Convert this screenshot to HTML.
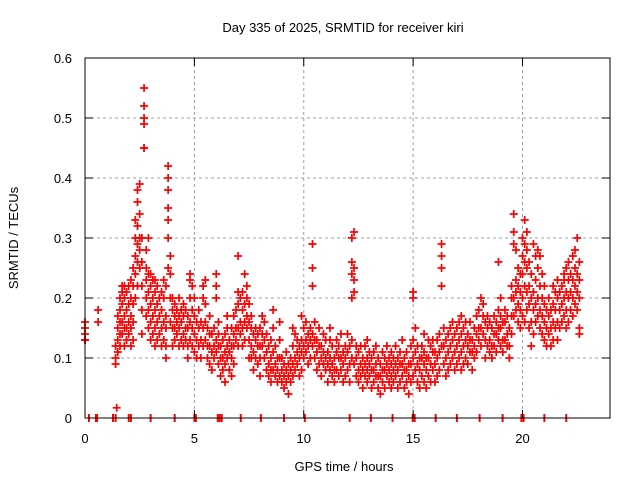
<!DOCTYPE html>
<html><head><meta charset="utf-8"><style>
body{margin:0;background:#fff;}
svg{display:block;font-family:"Liberation Sans",sans-serif;}
</style></head><body>
<svg id="chart" width="640" height="480">
<text x="343" y="32" text-anchor="middle" font-size="13">Day 335 of 2025, SRMTID for receiver kiri</text>
<text transform="translate(18,238) rotate(-90)" text-anchor="middle" font-size="13">SRMTID / TECUs</text>
<text x="344" y="471" text-anchor="middle" font-size="13">GPS time / hours</text>
<g id="grid"></g>
<g id="marks"></g>
<g id="axes"></g>
</svg>
<script>
const yTicks=[0,0.1,0.2,0.3,0.4,0.5,0.6];
const xTicks=[0,5,10,15,20];
const binHours=[0.0,0.6,1.4,1.45,1.5,1.6,1.7,1.8,1.9,2.0,2.1,2.2,2.3,2.4,2.5,2.6,2.7,2.8,2.9,3.0,3.1,3.2,3.3,3.4,3.5,3.6,3.7,3.8,3.9,4.0,4.1,4.2,4.3,4.4,4.5,4.6,4.7,4.8,4.9,5.0,5.1,5.2,5.3,5.4,5.5,5.6,5.7,5.8,5.9,6.0,6.1,6.2,6.3,6.4,6.5,6.6,6.7,6.8,6.9,7.0,7.1,7.2,7.3,7.4,7.5,7.6,7.7,7.8,7.9,8.0,8.1,8.2,8.3,8.4,8.5,8.6,8.7,8.8,8.9,9.0,9.1,9.2,9.3,9.4,9.5,9.6,9.7,9.8,9.9,10.0,10.1,10.2,10.3,10.4,10.5,10.6,10.7,10.8,10.9,11.0,11.1,11.2,11.3,11.4,11.5,11.6,11.7,11.8,11.9,12.0,12.1,12.2,12.3,12.4,12.5,12.6,12.7,12.8,12.9,13.0,13.1,13.2,13.3,13.4,13.5,13.6,13.7,13.8,13.9,14.0,14.1,14.2,14.3,14.4,14.5,14.6,14.7,14.8,14.9,15.0,15.1,15.2,15.3,15.4,15.5,15.6,15.7,15.8,15.9,16.0,16.1,16.2,16.3,16.4,16.5,16.6,16.7,16.8,16.9,17.0,17.1,17.2,17.3,17.4,17.5,17.6,17.7,17.8,17.9,18.0,18.1,18.2,18.3,18.4,18.5,18.6,18.7,18.8,18.9,19.0,19.1,19.2,19.3,19.4,19.5,19.6,19.7,19.8,19.9,20.0,20.1,20.2,20.3,20.4,20.5,20.6,20.7,20.8,20.9,21.0,21.1,21.2,21.3,21.4,21.5,21.6,21.7,21.8,21.9,22.0,22.1,22.2,22.3,22.4,22.5,22.6];
const binValues=[
[.13,.14,.15,.16,.13],[.16,.18],[.09,.10,.12],[.017],[.11,.13,.15,.17],[.12,.14,.16,.18,.2],[.14,.16,.19,.21,.22],[.12,.15,.17,.2,.22],[.13,.15,.18,.21],[.14,.16,.19,.22],
[.12,.15,.17,.2,.23],[.13,.16,.19,.22,.25],[.2,.24,.27,.3,.33],[.22,.26,.29,.32,.36,.38],[.25,.28,.3,.34,.39],[.14,.18,.22,.26,.3],[.45,.49,.5,.52,.55,.45],[.17,.2,.23,.25,.28],[.15,.18,.21,.24,.3],[.13,.16,.19,.22,.24],
[.14,.17,.2,.23],[.12,.15,.18,.21,.23],[.13,.16,.19,.22],[.14,.17,.2],[.12,.15,.18,.21],[.13,.16,.2,.23],[.1,.12,.15,.17,.22],[.25,.3,.33,.35,.38,.4,.42],[.2,.24,.27,.16],[.12,.15,.18,.2],
[.13,.15,.17,.19],[.14,.16,.18],[.12,.15,.17,.2],[.13,.16,.18],[.12,.14,.17,.19],[.13,.15,.18],[.1,.12,.15,.17],[.13,.16,.2,.23,.24],[.12,.15,.18,.22],[.11,.14,.17,.2],
[.1,.13,.16],[.12,.15,.18],[.1,.13,.16],[.12,.15,.2,.22],[.13,.16,.19,.23],[.1,.12,.15],[.09,.12,.14,.17],[.08,.11,.14],[.1,.12,.15],[.2,.22,.24,.13,.11],
[.09,.12,.14,.16],[.07,.1,.12],[.08,.1,.13],[.06,.09,.11,.14],[.1,.12,.15,.17],[.08,.11,.13],[.07,.1,.12,.15],[.09,.12,.14,.17],[.13,.15,.18],[.12,.15,.19,.21,.27],
[.14,.16,.2],[.12,.15,.18,.21],[.13,.16,.19,.24],[.15,.17,.2,.22],[.1,.13,.16,.19],[.1,.12,.15,.17],[.08,.11,.14],[.1,.13,.15],[.09,.12,.14],[.07,.1,.12,.15],
[.12,.14,.17],[.1,.13,.16],[.08,.11,.14],[.07,.09,.12],[.06,.08,.1,.13],[.08,.11,.15,.18],[.07,.09,.12],[.06,.08,.1],[.07,.1,.13,.16],[.06,.08,.1],
[.05,.07,.09],[.06,.08,.11],[.04,.07,.09],[.06,.08,.1],[.07,.09,.12,.15],[.08,.1,.14],[.09,.11,.13],[.07,.1,.12],[.08,.11,.13,.17],[.1,.12,.15],
[.11,.13,.16],[.09,.12,.14],[.1,.13,.15],[.12,.14,.22,.25,.29],[.1,.13,.16],[.08,.11,.13],[.09,.12,.15],[.07,.1,.12],[.09,.11,.14],[.08,.1,.13],
[.06,.09,.11],[.08,.1,.13,.15],[.07,.09,.12],[.06,.08,.1],[.08,.11,.13],[.07,.1,.12],[.08,.1,.14],[.06,.09,.11],[.07,.1,.12],[.08,.11,.14],
[.06,.09,.12],[.2,.24,.26,.3,.13,.1],[.21,.23,.25,.31,.09],[.07,.1,.12],[.06,.08,.11],[.07,.09,.12],[.05,.08,.1],[.07,.09,.12],[.06,.08,.1,.13],[.07,.09,.11],
[.05,.08,.1],[.06,.08,.11],[.07,.09,.12],[.05,.07,.1],[.04,.07,.09],[.06,.08,.11],[.05,.08,.1],[.07,.09,.12],[.06,.08,.1],[.05,.07,.09,.11],
[.06,.08,.1],[.07,.09,.12],[.05,.08,.1],[.06,.09,.11],[.07,.09,.13],[.05,.08,.1],[.06,.08,.11],[.04,.07,.09],[.06,.09,.12],[.07,.1,.13,.2,.21],
[.08,.11,.15],[.06,.09,.12],[.05,.08,.1],[.07,.1,.12],[.06,.09,.11,.14],[.05,.08,.1],[.07,.1,.13],[.06,.09,.12],[.08,.11,.13],[.06,.09,.11],
[.07,.1,.13],[.08,.11,.14],[.22,.25,.27,.29,.12],[.09,.12,.15],[.07,.1,.13],[.08,.11,.14],[.09,.12,.15],[.1,.13,.16],[.08,.11,.14],[.09,.12,.15],
[.1,.13,.16],[.08,.11,.14,.17],[.09,.12,.15],[.1,.13,.16],[.09,.12,.14],[.11,.13,.16],[.08,.11,.13],[.1,.12,.15],[.11,.14,.17],[.13,.15,.18],
[.12,.15,.2],[.14,.17,.19],[.1,.13,.16],[.12,.15,.17],[.11,.13,.16],[.1,.12,.15],[.12,.14,.17],[.11,.14,.16],[.13,.15,.18,.26],[.12,.15,.17,.2],
[.11,.13,.16],[.13,.16,.18],[.12,.14,.17],[.1,.12,.15],[.14,.17,.2,.22],[.17,.2,.29,.31,.34],[.18,.21,.23,.28],[.16,.19,.22,.25],[.15,.18,.21,.24],[.17,.2,.24,.27,.3],
[.16,.22,.26,.29,.33],[.18,.21,.25,.28,.31],[.15,.19,.22,.26],[.12,.16,.2,.24],[.14,.18,.21,.29],[.16,.19,.23,.27],[.17,.2,.25,.28],[.15,.18,.22,.27],[.14,.17,.2,.24],[.13,.16,.19,.22],
[.12,.15,.18],[.14,.17,.2],[.12,.15,.18],[.13,.16,.19,.22],[.15,.18,.21],[.13,.16,.2,.23],[.15,.18,.21],[.16,.19,.22],[.17,.2,.23,.24],[.15,.18,.21,.25],
[.16,.2,.23,.26],[.18,.21,.24],[.17,.2,.23,.27],[.19,.22,.25,.28],[.18,.21,.24,.3],[.15,.2,.23,.26,.14]];
const zeroHours=[0.18,0.5,0.55,1.28,1.4,2.0,2.1,3.0,4.1,5.0,5.07,6.07,6.16,6.25,7.12,8.04,9.1,10.05,12.1,13.07,14.06,14.98,15.07,16.03,17.0,18.04,19.09,19.95,20.05,21.0,22.0];

const L=85,R=610,T=58,B=418;
const xs=h=>L+(h/24)*(R-L);
const ys=v=>B-(v/0.6)*(B-T);
const NS='http://www.w3.org/2000/svg';
function mk(tag,attrs,parent){const e=document.createElementNS(NS,tag);for(const k in attrs)e.setAttribute(k,attrs[k]);parent.appendChild(e);return e;}
const grid=document.getElementById('grid'),marks=document.getElementById('marks'),axes=document.getElementById('axes');
yTicks.forEach(v=>{
  if(v>0&&v<0.6){const g=mk('line',{x1:L,x2:R,y1:ys(v),y2:ys(v),stroke:'#a0a0a0','stroke-dasharray':'3,3','stroke-width':1},grid);
  
  }
  const t=mk('text',{x:L-13,y:ys(v)+5,'text-anchor':'end','font-size':13},axes);t.textContent=v===0?'0':v.toFixed(1);
  
  
  mk('line',{x1:L,x2:L+8,y1:ys(v),y2:ys(v),stroke:'#000'},axes);
  mk('line',{x1:R,x2:R-8,y1:ys(v),y2:ys(v),stroke:'#000'},axes);
});
xTicks.forEach(h=>{
  if(h>0){const g=mk('line',{x1:xs(h),x2:xs(h),y1:T,y2:B,stroke:'#a0a0a0','stroke-dasharray':'3,3','stroke-width':1},grid);
  
  }
  const t=mk('text',{x:xs(h),y:443,'text-anchor':'middle','font-size':13},axes);t.textContent=String(h);
  
  
  mk('line',{x1:xs(h),x2:xs(h),y1:B,y2:B-8,stroke:'#000'},axes);
  mk('line',{x1:xs(h),x2:xs(h),y1:T,y2:T+8,stroke:'#000'},axes);
});
const fr=mk('rect',{x:L,y:T,width:R-L,height:B-T,fill:'none',stroke:'#000','stroke-width':1},axes);


function plus(x,y){
  const p=mk('path',{d:`M${x-4} ${y}h8M${x} ${y-4}v8`,stroke:'#ff0000','stroke-width':1.7,fill:'none'},marks);
  
  
}
binHours.forEach((h,i)=>{(binValues[i]||[]).forEach(v=>plus(xs(h),ys(v)));});
zeroHours.forEach(h=>{
  const z=mk('path',{d:`M${xs(h)} ${B-4}v8`,stroke:'#ff0000','stroke-width':2},marks);
  
  
});
</script>
</body></html>
